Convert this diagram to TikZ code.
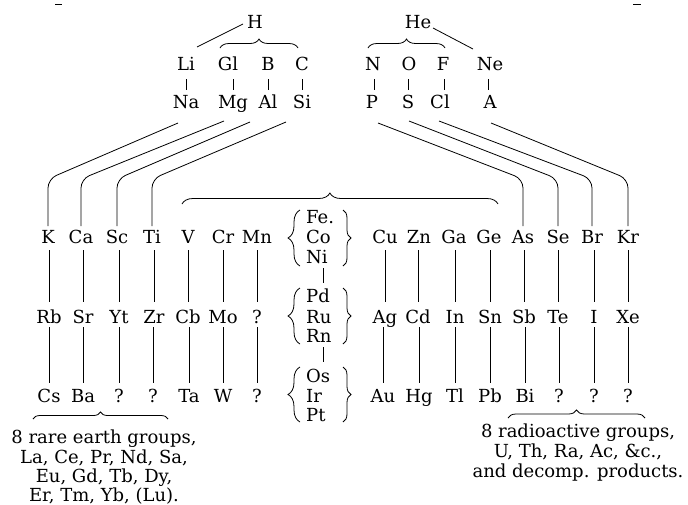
\documentclass[tikz,border=0pt]{standalone}
\usepackage{fontspec}
\setmainfont{DejaVu Serif}
\usetikzlibrary{calc,decorations.pathreplacing}
\newcommand\vl[5][0]{\draw[conn] ($(#3.base |- #2.base)+(#1,#4)$) -- ($(#3.base)+(#1,#5)$);}
\newcommand\dl[4]{\draw[conn,rounded corners=9pt] ($(#1.base)+(#3,#4)$) -- ($(#2.base)+(0,64)$) -- ($(#2.base)+(0,17)$);}
\begin{document}
\begin{tikzpicture}[x=1pt,y=1pt,
  el/.style={anchor=base,inner sep=0pt,font=\fontsize{18}{20}\selectfont},
  gl/.style={anchor=base west,inner sep=0pt,font=\fontsize{18}{20}\selectfont},
  conn/.style={line width=0.8pt},
  brc/.style={line width=0.8pt,decorate,decoration={brace,amplitude=#1}},
  brc/.default=8
]
\useasboundingbox (0,0) rectangle (688,-504);
% tiny marks at the top edge
\draw[conn] (55,-4) -- (62,-4);
\draw[conn] (633,-4) -- (641,-4);
% top
\node[el] (H) at (255,-28) {H};
\node[el] (He) at (418,-28) {He};
% row 2
\node[el] (Li) at (186,-70) {Li};
\node[el] (Gl) at (228,-70) {Gl};
\node[el] (B) at (268,-70) {B};
\node[el] (C) at (302,-70) {C};
\node[el] (N) at (373,-70) {N};
\node[el] (O) at (409,-70) {O};
\node[el] (F) at (443,-70) {F};
\node[el] (Ne) at (490,-70) {Ne};
% row 3
\node[el] (Na) at (186,-108) {Na};
\node[el] (Mg) at (233,-108) {Mg};
\node[el] (Al) at (268,-108) {Al};
\node[el] (Si) at (302,-108) {Si};
\node[el] (P) at (372,-108) {P};
\node[el] (S) at (408,-108) {S};
\node[el] (Cl) at (440,-108) {Cl};
\node[el] (A) at (490,-108) {A};
% row 4
\node[el] (K) at (48,-243) {K};
\node[el] (Ca) at (81,-243) {Ca};
\node[el] (Sc) at (117,-243) {Sc};
\node[el] (Ti) at (152,-243) {Ti};
\node[el] (V) at (188,-243) {V};
\node[el] (Cr) at (223,-243) {Cr};
\node[el] (Mn) at (257,-243) {Mn};
\node[gl] (Fe) at (306,-223) {Fe.};
\node[gl] (Co) at (306,-243) {Co};
\node[gl] (Ni) at (306,-263) {Ni};
\node[el] (Cu) at (385,-243) {Cu};
\node[el] (Zn) at (419,-243) {Zn};
\node[el] (Ga) at (454,-243) {Ga};
\node[el] (Ge) at (489,-243) {Ge};
\node[el] (As) at (523,-243) {As};
\node[el] (Se) at (558,-243) {Se};
\node[el] (Br) at (592,-243) {Br};
\node[el] (Kr) at (628,-243) {Kr};
% row 5
\node[el] (Rb) at (49,-323) {Rb};
\node[el] (Sr) at (83,-323) {Sr};
\node[el] (Yt) at (119,-323) {Yt};
\node[el] (Zr) at (154,-323) {Zr};
\node[el] (Cb) at (188,-323) {Cb};
\node[el] (Mo) at (223,-323) {Mo};
\node[el] (qa) at (257,-323) {?};
\node[gl] (Pd) at (306,-302) {Pd};
\node[gl] (Ru) at (306,-323) {Ru};
\node[gl] (Rn) at (306,-342) {Rn};
\node[el] (Ag) at (385,-323) {Ag};
\node[el] (Cd) at (418,-323) {Cd};
\node[el] (In) at (455,-323) {In};
\node[el] (Sn) at (490,-323) {Sn};
\node[el] (Sb) at (524,-323) {Sb};
\node[el] (Te) at (558,-323) {Te};
\node[el] (I) at (594,-323) {I};
\node[el] (Xe) at (628,-323) {Xe};
% row 6
\node[el] (Cs) at (49,-402) {Cs};
\node[el] (Ba) at (83,-402) {Ba};
\node[el] (qb) at (119,-402) {?};
\node[el] (qc) at (153,-402) {?};
\node[el] (Ta) at (189,-402) {Ta};
\node[el] (W) at (223,-402) {W};
\node[el] (qd) at (257,-402) {?};
\node[gl] (Os) at (306,-382) {Os};
\node[gl] (Ir) at (306,-402) {Ir};
\node[gl] (Pt) at (306,-421) {Pt};
\node[el] (Au) at (383,-402) {Au};
\node[el] (Hg) at (419,-402) {Hg};
\node[el] (Tl) at (455,-402) {Tl};
\node[el] (Pb) at (490,-402) {Pb};
\node[el] (Bi) at (525,-402) {Bi};
\node[el] (qe) at (559,-402) {?};
\node[el] (qf) at (594,-402) {?};
\node[el] (qg) at (628,-402) {?};
% bottom texts
\node[el] (ra1) at (104,-443) {8 rare earth groups,};
\node[el] (ra2) at (104,-463) {La, Ce, Pr, Nd, Sa,};
\node[el] (ra3) at (104,-482) {Eu, Gd, Tb, Dy,};
\node[el] (ra4) at (104,-501) {Er, Tm, Yb, (Lu).};
\node[el] (rd1) at (578,-437) {8 radioactive groups,};
\node[el] (rd2) at (578,-457) {U, Th, Ra, Ac, \&c.,};
\node[el] (rd3) at (578,-477) {and decomp. products.};
% top connectors
\draw[conn] ($(H.base)+(-12,4)$) -- ($(Li.base)+(11,23)$);
\draw[conn] ($(He.base)+(15,0)$) -- ($(Ne.base)+(-17,21)$);
\draw[brc=9] ($(Gl.base)+(-8,22)$) -- ($(C.base)+(-4,22)$);
\draw[brc=9] ($(N.base)+(-5,22)$) -- ($(F.base)+(2,22)$);
\vl{Li}{Na}{-9}{18}
\vl{Gl}{Mg}{-9}{18}
\vl{B}{Al}{-9}{18}
\vl{C}{Si}{-9}{18}
\vl[2]{N}{P}{-9}{18}
\vl{O}{S}{-9}{18}
\vl[4]{F}{Cl}{-9}{18}
\vl[-2]{Ne}{A}{-9}{18}
% diagonals
\dl{Na}{K}{-8}{-15}
\dl{Mg}{Ca}{-9}{-13}
\dl{Al}{Sc}{-18}{-14}
\dl{Si}{Ti}{-16}{-14}
\dl{P}{As}{6}{-15}
\dl{S}{Se}{1}{-13}
\dl{Cl}{Br}{-1}{-13}
\dl{A}{Kr}{1}{-15}
% big brace
\draw[brc=11,decoration={aspect=0.468}] ($(V.base)+(-6,39)$) -- ($(Ge.base)+(9,39)$);
% row 4 -> 5
\vl{K}{Rb}{-7}{21}
\vl{Ca}{Sr}{-7}{21}
\vl{Sc}{Yt}{-7}{21}
\vl{Ti}{Zr}{-7}{21}
\vl{V}{Cb}{-7}{21}
\vl{Cr}{Mo}{-7}{21}
\vl{Mn}{qa}{-7}{21}
\vl{Cu}{Ag}{-7}{21}
\vl{Zn}{Cd}{-7}{21}
\vl{Ga}{In}{-7}{21}
\vl{Ge}{Sn}{-7}{21}
\vl{As}{Sb}{-7}{21}
\vl{Se}{Te}{-7}{21}
\vl{Br}{I}{-7}{21}
\vl{Kr}{Xe}{-7}{21}
% row 5 -> 6
\vl{Rb}{Cs}{-4}{19}
\vl{Sr}{Ba}{-4}{19}
\vl{Yt}{qb}{-4}{19}
\vl{Zr}{qc}{-4}{19}
\vl{Cb}{Ta}{-4}{19}
\vl{Mo}{W}{-4}{19}
\vl{qa}{qd}{-4}{19}
\vl{Ag}{Au}{-4}{19}
\vl{Cd}{Hg}{-4}{19}
\vl{In}{Tl}{-4}{19}
\vl{Sn}{Pb}{-4}{19}
\vl{Sb}{Bi}{-4}{19}
\vl{Te}{qe}{-4}{19}
\vl{I}{qf}{-4}{19}
\vl{Xe}{qg}{-4}{19}
% triple groups
\draw[conn] ($(Ni.base west)+(17,-5)$) -- ($(Pd.base west)+(17,19)$);
\draw[conn] ($(Rn.base west)+(17,-5)$) -- ($(Os.base west)+(17,20)$);
\draw[brc=12] ($(Ni.base west)+(-6,-3)$) -- ($(Fe.base west)+(-6,13)$);
\draw[brc=8] ($(Fe.base west)+(37,13)$) -- ($(Ni.base west)+(37,-3)$);
\draw[brc=12] ($(Rn.base west)+(-6,-2)$) -- ($(Pd.base west)+(-6,14)$);
\draw[brc=8] ($(Pd.base west)+(37,14)$) -- ($(Rn.base west)+(37,-2)$);
\draw[brc=12] ($(Pt.base west)+(-6,-1)$) -- ($(Os.base west)+(-6,15)$);
\draw[brc=8] ($(Os.base west)+(37,15)$) -- ($(Pt.base west)+(37,-1)$);
% bottom braces
\draw[brc=7] ($(Cs.base)+(-16,-17)$) -- ($(qc.base)+(15,-17)$);
\draw[brc=8] ($(Bi.base)+(-17,-16)$) -- ($(qg.base)+(17,-16)$);
\end{tikzpicture}
\end{document}
